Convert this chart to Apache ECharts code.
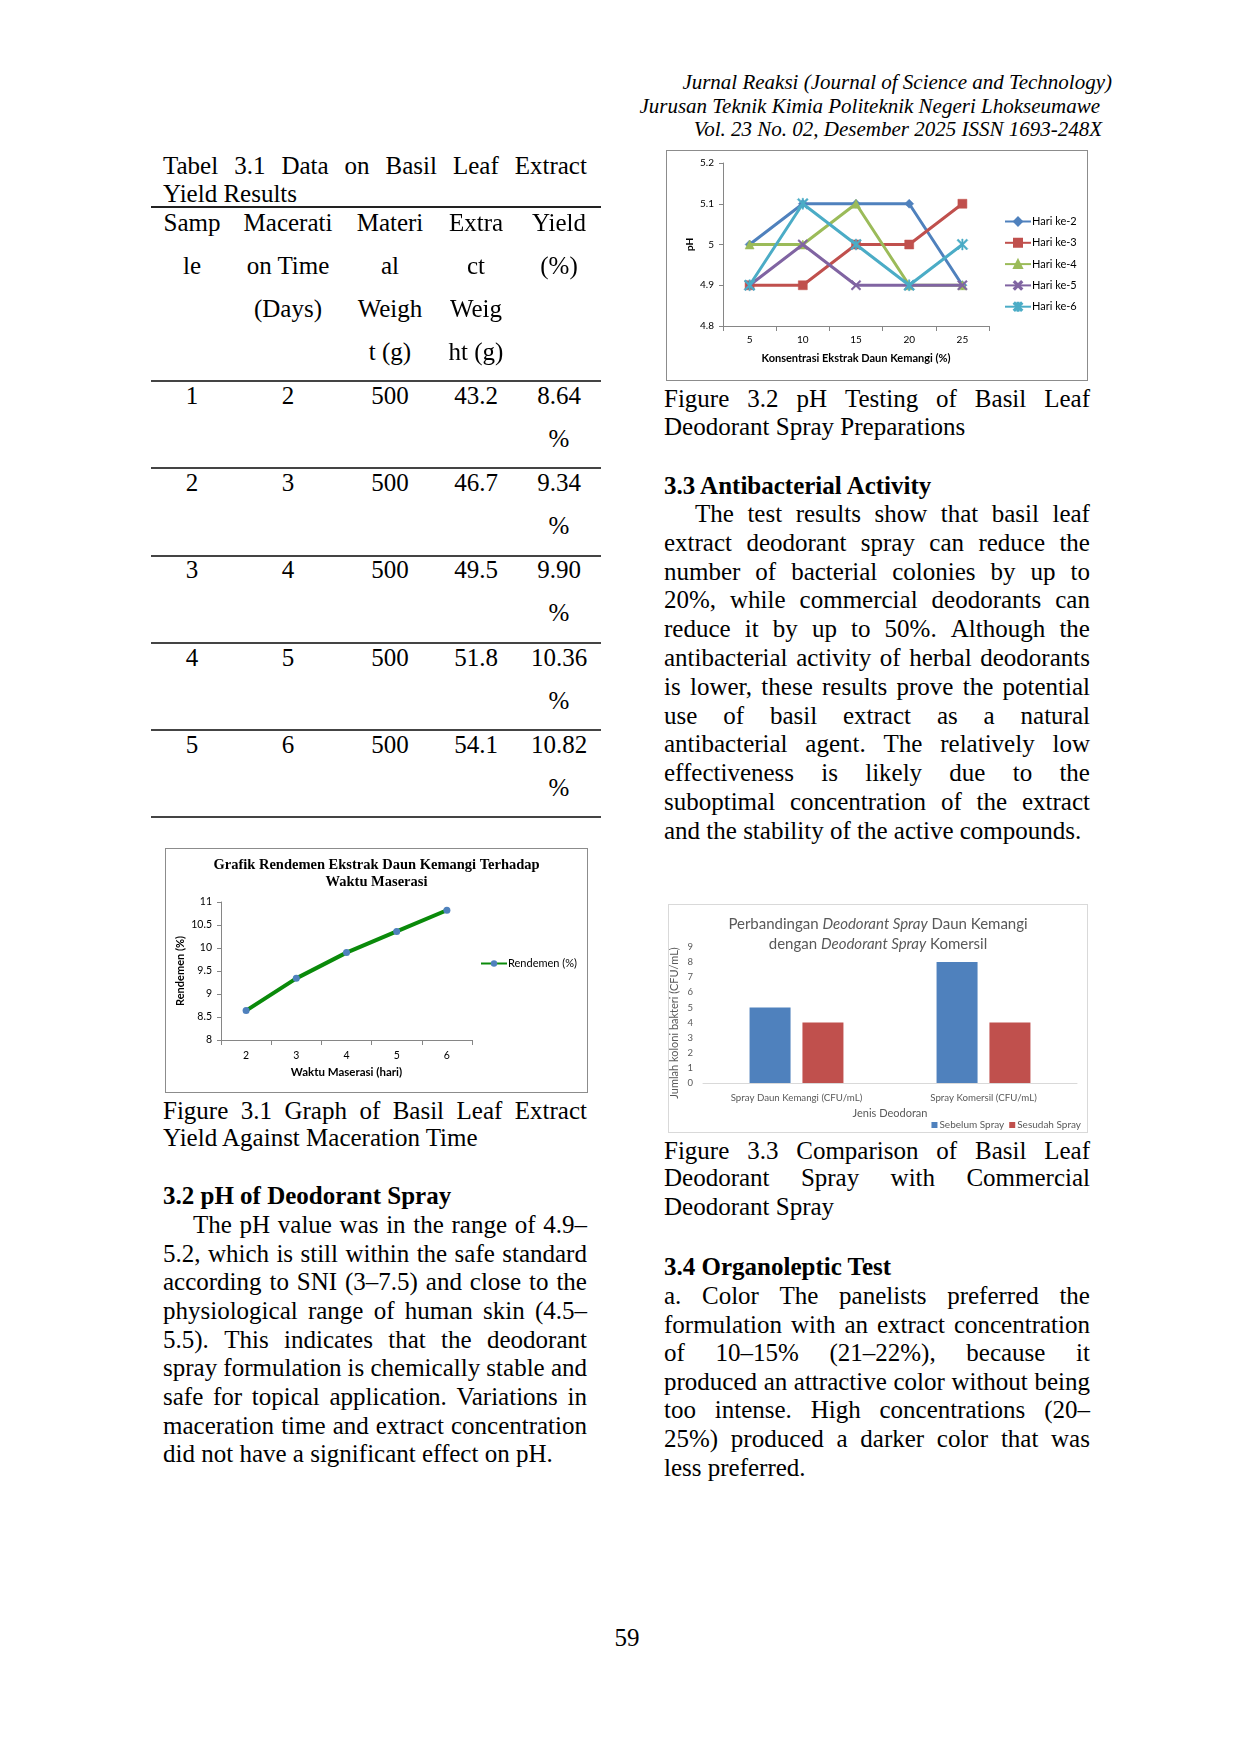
<!DOCTYPE html>
<html><head><meta charset="utf-8">
<script src="https://cdn.jsdelivr.net/npm/echarts@6/dist/echarts.min.js"></script>
<style>
html,body{margin:0;padding:0;background:#fff;}
body{width:1240px;height:1753px;position:relative;overflow:hidden;font-family:"Liberation Serif","Times New Roman",serif;color:#000;}
.ln{position:absolute;white-space:nowrap;}
.j{display:flex;justify-content:space-between;}
.hr{position:absolute;height:0;}
.box{position:absolute;box-sizing:border-box;}
</style>
</head><body>
<div id="phChart" class="box" style="left:666px;top:150px;width:422px;height:231px;border:1px solid #8c8c8c;"></div>
<div id="yieldChart" class="box" style="left:165px;top:848px;width:423px;height:245px;border:1px solid #8c8c8c;"></div>
<div id="barChart" class="box" style="left:668px;top:904px;width:420px;height:229px;border:1px solid #d9d9d9;"></div>
<script>
// ---------- DATA ----------
// Table 3.1
var sampleNo = ['1','2','3','4','5'];
var macerationDays = ['2','3','4','5','6'];
var materialWeight = ['500','500','500','500','500'];
var extractWeight = ['43.2','46.7','49.5','51.8','54.1'];
var yieldPct = [8.64, 9.34, 9.90, 10.36, 10.82];
var yieldPctText = ['8.64','9.34','9.90','10.36','10.82'];

// Figure 3.1 axis ticks
var yieldAxisMin = 8, yieldAxisMax = 11, yieldAxisStep = 0.5;

// Figure 3.2 pH
var concentrations = ['5','10','15','20','25'];
var phHari2 = [5.0, 5.1, 5.1, 5.1, 4.9];
var phHari3 = [4.9, 4.9, 5.0, 5.0, 5.1];
var phHari4 = [5.0, 5.0, 5.1, 4.9, 4.9];
var phHari5 = [4.9, 5.0, 4.9, 4.9, 4.9];
var phHari6 = [4.9, 5.1, 5.0, 4.9, 5.0];
var phSeriesNames = ['Hari ke-2','Hari ke-3','Hari ke-4','Hari ke-5','Hari ke-6'];
var phAxisMin = 4.8, phAxisMax = 5.2, phAxisStep = 0.1;

// Figure 3.3 bacteria colonies
var deodorantTypes = ['Spray Daun Kemangi (CFU/mL)', 'Spray Komersil (CFU/mL)'];
var sebelumSpray = [5, 8];
var sesudahSpray = [4, 4];
var barAxisMin = 0, barAxisMax = 9, barAxisStep = 1;

// ---------- TEXT LAYOUT ----------
function L(text, x, cy, w, o) {
  o = o || {};
  var fs = o.fs || 25, lh = o.lh || 28;
  var d = document.createElement('div');
  d.className = 'ln';
  d.style.fontSize = fs + 'px';
  d.style.lineHeight = lh + 'px';
  d.style.top = (cy - lh / 2 - 1) + 'px';
  if (o.bold) d.style.fontWeight = 'bold';
  if (o.italic) d.style.fontStyle = 'italic';
  if (o.right != null) {
    d.style.right = (1240 - o.right) + 'px';
  } else if (o.center) {
    d.style.left = (x - 200) + 'px'; d.style.width = '400px'; d.style.textAlign = 'center';
  } else {
    d.style.left = x + 'px';
  }
  if (o.justify) {
    d.classList.add('j');
    d.style.width = w + 'px';
    text.split(' ').forEach(function (t) { var s = document.createElement('span'); s.textContent = t; d.appendChild(s); });
  } else {
    d.textContent = text;
  }
  document.body.appendChild(d);
}
function HR(x1, x2, y, c, t) {
  var d = document.createElement('div');
  d.className = 'hr';
  d.style.left = x1 + 'px'; d.style.width = (x2 - x1) + 'px';
  d.style.top = (y - t / 2) + 'px';
  d.style.borderTop = t + 'px solid ' + c;
  document.body.appendChild(d);
}
function para(lines, x, y0, step, w, indent) {
  lines.forEach(function (t, i) {
    var last = i === lines.length - 1;
    var xi = (i === 0 ? x + indent : x);
    var wi = (i === 0 ? w - indent : w);
    L(t, xi, y0 + i * step, wi, { justify: !last });
  });
}

// Header
L('Jurnal Reaksi (Journal of Science and Technology)', 0, 83, 0, { italic: true, fs: 21, lh: 24, right: 1112 });
L('Jurusan Teknik Kimia Politeknik Negeri Lhokseumawe', 0, 107, 0, { italic: true, fs: 21, lh: 24, right: 1100 });
L('Vol. 23 No. 02, Desember 2025 ISSN 1693-248X', 0, 130, 0, { italic: true, fs: 21, lh: 24, right: 1102 });

// Left column
var LX = 163, LW = 424;
L('Tabel 3.1 Data on Basil Leaf Extract', LX, 167, LW, { justify: true });
L('Yield Results', LX, 195, LW);

// Table
HR(151, 601, 207, '#222', 2);
var colX = [192, 288, 390, 476, 559];
var headLines = [['Samp', 'le'], ['Macerati', 'on Time', '(Days)'], ['Materi', 'al', 'Weigh', 't (g)'], ['Extra', 'ct', 'Weig', 'ht (g)'], ['Yield', '(%)']];
headLines.forEach(function (col, ci) {
  col.forEach(function (t, li) { L(t, colX[ci], 224 + li * 43, 0, { center: true }); });
});
var rowLines = [381, 468, 556, 643, 730, 817];
rowLines.forEach(function (y) { HR(151, 601, y, '#444', 2); });
for (var r = 0; r < sampleNo.length; r++) {
  var cy = 397 + r * 87.2;
  var vals = [sampleNo[r], macerationDays[r], materialWeight[r], extractWeight[r], yieldPctText[r]];
  vals.forEach(function (v, ci) { L(v, colX[ci], cy, 0, { center: true }); });
  L('%', colX[4], cy + 43, 0, { center: true });
}

L('Figure 3.1 Graph of Basil Leaf Extract', LX, 1112, LW, { justify: true });
L('Yield Against Maceration Time', LX, 1139, LW);
L('3.2 pH of Deodorant Spray', LX, 1197, LW, { bold: true });
para([
  'The pH value was in the range of 4.9–',
  '5.2, which is still within the safe standard',
  'according to SNI (3–7.5) and close to the',
  'physiological range of human skin (4.5–',
  '5.5). This indicates that the deodorant',
  'spray formulation is chemically stable and',
  'safe for topical application. Variations in',
  'maceration time and extract concentration',
  'did not have a significant effect on pH.'
], LX, 1226, 28.65, LW, 30);

// Right column
var RX = 664, RW = 426;
L('Figure 3.2 pH Testing of Basil Leaf', RX, 400, RW, { justify: true });
L('Deodorant Spray Preparations', RX, 428, RW);
L('3.3 Antibacterial Activity', RX, 487, RW, { bold: true });
para([
  'The test results show that basil leaf',
  'extract deodorant spray can reduce the',
  'number of bacterial colonies by up to',
  '20%, while commercial deodorants can',
  'reduce it by up to 50%. Although the',
  'antibacterial activity of herbal deodorants',
  'is lower, these results prove the potential',
  'use of basil extract as a natural',
  'antibacterial agent. The relatively low',
  'effectiveness is likely due to the',
  'suboptimal concentration of the extract',
  'and the stability of the active compounds.'
], RX, 515, 28.8, RW, 31);
L('Figure 3.3 Comparison of Basil Leaf', RX, 1152, RW, { justify: true });
L('Deodorant Spray with Commercial', RX, 1179, RW, { justify: true });
L('Deodorant Spray', RX, 1208, RW);
L('3.4 Organoleptic Test', RX, 1268, RW, { bold: true });
para([
  'a. Color The panelists preferred the',
  'formulation with an extract concentration',
  'of 10–15% (21–22%), because it',
  'produced an attractive color without being',
  'too intense. High concentrations (20–',
  '25%) produced a darker color that was',
  'less preferred.'
], RX, 1297, 28.6, RW, 0);

L('59', 627, 1639, 0, { center: true });

// ---------- CHARTS ----------
var SANS = 'Lato, "Open Sans", "Liberation Sans", sans-serif';
function fmt1(v) { return String(Math.round(v * 10) / 10); }

// Figure 3.2
var phColors = ['#4F81BD', '#C0504D', '#9BBB59', '#8064A2', '#4BACC6'];
var xSym = 'path://M0,1.2 L1.2,0 L5,3.8 L8.8,0 L10,1.2 L6.2,5 L10,8.8 L8.8,10 L5,6.2 L1.2,10 L0,8.8 L3.8,5 Z';
var starSym = 'path://M0,1.2 L1.2,0 L5,3.8 L8.8,0 L10,1.2 L6.2,5 L10,8.8 L8.8,10 L5,6.2 L1.2,10 L0,8.8 L3.8,5 Z M4.4,0 L5.6,0 L5.6,10 L4.4,10 Z';
var phSymbols = ['diamond', 'rect', 'triangle', xSym, starSym];
var phSizes = [9, 9, 9, 10, 11];
var phData = [phHari2, phHari3, phHari4, phHari5, phHari6];
var ph = echarts.init(document.getElementById('phChart'), null, { renderer: 'canvas' });
ph.setOption({
  animation: false,
  textStyle: { fontFamily: SANS },
  grid: { left: 56, top: 12, right: 98, bottom: 54, containLabel: false, outerBoundsMode: 'none' },
  legend: {
    orient: 'vertical', left: 332, top: 59, itemWidth: 26, itemHeight: 10, itemGap: 8.3,
    textStyle: { fontSize: 11, color: '#000', fontFamily: SANS, lineHeight: 13, padding: [0, 0, 0, -4] },
    data: phSeriesNames
  },
  xAxis: {
    type: 'category', data: concentrations, boundaryGap: true,
    name: 'Konsentrasi Ekstrak Daun Kemangi (%)', nameLocation: 'middle', nameGap: 27,
    nameTextStyle: { fontSize: 11, fontWeight: 'bold', color: '#000', fontFamily: SANS },
    axisLine: { lineStyle: { color: '#868686', width: 1 } },
    axisTick: { show: true, length: 5, lineStyle: { color: '#868686' } },
    axisLabel: { fontSize: 10, color: '#000', margin: 9, fontFamily: SANS },
    splitLine: { show: false }
  },
  yAxis: {
    type: 'value', min: phAxisMin, max: phAxisMax, interval: phAxisStep,
    name: 'pH', nameLocation: 'middle', nameGap: 28, nameMoveOverlap: false,
    nameTextStyle: { fontSize: 10, fontWeight: 'bold', color: '#000', fontFamily: SANS },
    axisLine: { show: true, lineStyle: { color: '#868686', width: 1 } },
    axisTick: { show: true, length: 4, lineStyle: { color: '#868686' } },
    axisLabel: { fontSize: 10, color: '#000', margin: 9, formatter: fmt1, fontFamily: SANS },
    splitLine: { show: false }
  },
  series: phSeriesNames.map(function (n, i) {
    return {
      name: n, type: 'line', data: phData[i],
      symbol: phSymbols[i], symbolSize: phSizes[i], showAllSymbol: true,
      lineStyle: { color: phColors[i], width: 3 },
      itemStyle: { color: phColors[i], borderColor: phColors[i], borderWidth: 0.5 },
      z: 2 + i
    };
  })
});

// Figure 3.1
var yc = echarts.init(document.getElementById('yieldChart'), null, { renderer: 'canvas' });
yc.setOption({
  animation: false,
  textStyle: { fontFamily: SANS },
  title: {
    text: 'Grafik Rendemen Ekstrak Daun Kemangi Terhadap\nWaktu Maserasi',
    left: 'center', top: 3,
    textStyle: { fontFamily: '"Liberation Serif", "Times New Roman", serif', fontWeight: 'bold', fontSize: 14.5, lineHeight: 17, color: '#000' }
  },
  grid: { left: 55, top: 53, right: 115, bottom: 52, containLabel: false, outerBoundsMode: 'none' },
  legend: {
    left: 309, top: 104, itemWidth: 26, itemHeight: 8,
    textStyle: { fontSize: 11, color: '#000', fontFamily: SANS, padding: [0, 0, 0, -4] },
    data: ['Rendemen (%)']
  },
  xAxis: {
    type: 'category', data: macerationDays, boundaryGap: true,
    name: 'Waktu Maserasi (hari)', nameLocation: 'middle', nameGap: 26,
    nameTextStyle: { fontSize: 11.5, fontWeight: 'bold', color: '#000', fontFamily: SANS },
    axisLine: { lineStyle: { color: '#868686' } },
    axisTick: { show: true, length: 5, lineStyle: { color: '#868686' } },
    axisLabel: { fontSize: 10.5, color: '#000', margin: 10, fontFamily: SANS },
    splitLine: { show: false }
  },
  yAxis: {
    type: 'value', min: yieldAxisMin, max: yieldAxisMax, interval: yieldAxisStep,
    name: 'Rendemen (%)', nameLocation: 'middle', nameGap: 35, nameMoveOverlap: false,
    nameTextStyle: { fontSize: 11, fontWeight: 'bold', color: '#000', fontFamily: SANS },
    axisLine: { show: true, lineStyle: { color: '#868686' } },
    axisTick: { show: true, length: 4, lineStyle: { color: '#868686' } },
    axisLabel: { fontSize: 10.5, color: '#000', margin: 9, formatter: fmt1, fontFamily: SANS },
    splitLine: { show: false }
  },
  series: [{
    name: 'Rendemen (%)', type: 'line', data: yieldPct,
    symbol: 'circle', symbolSize: 7,
    lineStyle: { color: '#0a8a0a', width: 4 },
    itemStyle: { color: '#4F81BD' }
  }]
});

// Figure 3.3
var bc = echarts.init(document.getElementById('barChart'), null, { renderer: 'canvas' });
bc.setOption({
  animation: false,
  textStyle: { fontFamily: SANS },
  title: {
    text: '{a|Perbandingan }{b|Deodorant Spray}{a| Daun Kemangi}\n{a|dengan }{b|Deodorant Spray}{a| Komersil}',
    left: 'center', top: 4,
    textStyle: {
      fontSize: 15, color: '#595959', fontWeight: 'normal', lineHeight: 20,
      rich: {
        a: { fontSize: 15, color: '#595959', fontFamily: SANS, lineHeight: 20 },
        b: { fontSize: 15, color: '#595959', fontFamily: SANS, fontStyle: 'italic', lineHeight: 20 }
      }
    }
  },
  grid: { left: 34, top: 42, right: 10, bottom: 49, containLabel: false, outerBoundsMode: 'none' },
  legend: {
    right: 6, top: 215, padding: 0, itemWidth: 6, itemHeight: 6, itemGap: 5, icon: 'rect',
    textStyle: { fontSize: 10, color: '#595959', fontFamily: SANS, padding: [0, 0, 0, -3] },
    data: ['Sebelum Spray', 'Sesudah Spray']
  },
  xAxis: {
    type: 'category', data: deodorantTypes,
    name: 'Jenis Deodoran', nameLocation: 'middle', nameGap: 25,
    nameTextStyle: { fontSize: 11, color: '#595959', fontFamily: SANS },
    axisLine: { lineStyle: { color: '#d9d9d9' } },
    axisTick: { show: false },
    axisLabel: { fontSize: 9.7, color: '#595959', margin: 10, fontFamily: SANS },
    splitLine: { show: false }
  },
  yAxis: {
    type: 'value', min: barAxisMin, max: barAxisMax, interval: barAxisStep,
    name: 'Jumlah koloni bakteri (CFU/mL)', nameLocation: 'middle', nameGap: 23, nameMoveOverlap: false,
    nameTextStyle: { fontSize: 11, color: '#595959', fontFamily: SANS, padding: [0, 16, 0, 0] },
    axisLine: { show: false }, axisTick: { show: false },
    axisLabel: { fontSize: 9.5, color: '#595959', margin: 10, fontFamily: SANS },
    splitLine: { show: false }
  },
  series: [
    { name: 'Sebelum Spray', type: 'bar', data: sebelumSpray, barWidth: 41, barGap: '29%', itemStyle: { color: '#4F81BD' } },
    { name: 'Sesudah Spray', type: 'bar', data: sesudahSpray, barWidth: 41, barGap: '29%', itemStyle: { color: '#C0504D' } }
  ]
});
</script>
</body></html>
